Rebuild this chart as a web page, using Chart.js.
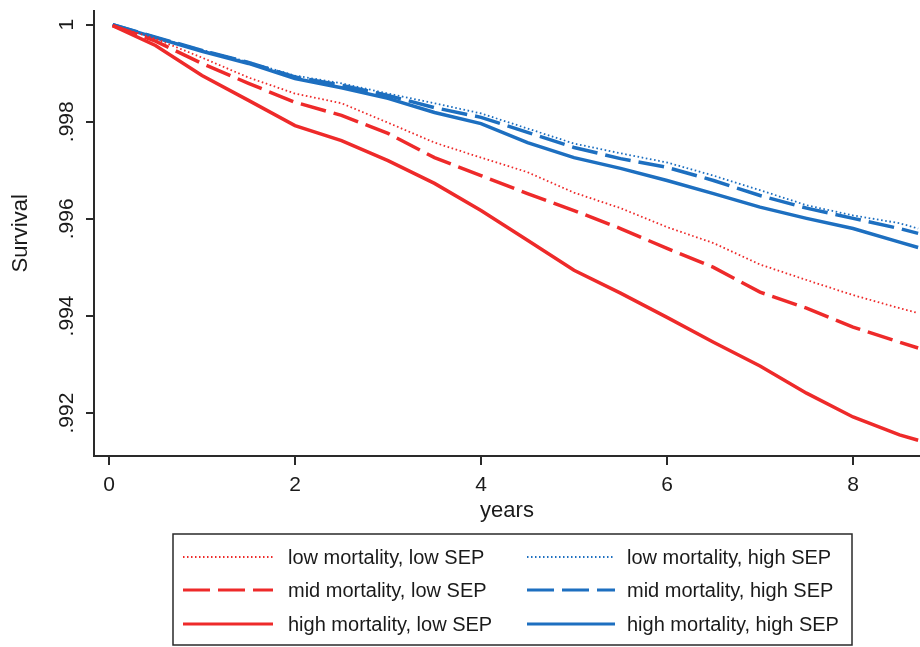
<!DOCTYPE html>
<html>
<head>
<meta charset="utf-8">
<script src="https://cdn.jsdelivr.net/npm/chart.js@4/dist/chart.umd.min.js"></script>
<style>
  html, body { margin: 0; padding: 0; background: #fff; }
  canvas { display: block; }
</style>
</head>
<body>
<canvas id="myChart" width="920" height="647"></canvas>
<script>
const ctx = document.getElementById('myChart');

// years of follow-up where the curves were read
const years = [0.04, 0.5, 1, 1.5, 2, 2.5, 3, 3.5, 4, 4.5, 5, 5.5, 6, 6.5, 7, 7.5, 8, 8.5, 8.7]

// survival, one list per group
const lowLow   = [0.99998, 0.99971, 0.99932, 0.99891, 0.99858, 0.99838, 0.99798, 0.99757, 0.99726, 0.99696, 0.99654, 0.99622, 0.99583, 0.99550, 0.99506, 0.99474, 0.99443, 0.99416, 0.99406]
const midLow   = [0.99998, 0.99966, 0.99920, 0.99879, 0.99840, 0.99813, 0.99776, 0.99726, 0.99689, 0.99652, 0.99617, 0.99580, 0.99539, 0.99500, 0.99449, 0.99416, 0.99377, 0.99346, 0.99334]
const highLow  = [0.99998, 0.99957, 0.99895, 0.99844, 0.99792, 0.99761, 0.99720, 0.99673, 0.99617, 0.99556, 0.99494, 0.99447, 0.99397, 0.99346, 0.99297, 0.99241, 0.99192, 0.99155, 0.99144]
const lowHigh  = [1.00000, 0.99974, 0.99948, 0.99923, 0.99895, 0.99879, 0.99858, 0.99838, 0.99817, 0.99786, 0.99755, 0.99735, 0.99716, 0.99689, 0.99659, 0.99628, 0.99607, 0.99591, 0.99580]
const midHigh  = [1.00000, 0.99974, 0.99947, 0.99922, 0.99892, 0.99875, 0.99854, 0.99829, 0.99809, 0.99778, 0.99747, 0.99724, 0.99706, 0.99679, 0.99648, 0.99622, 0.99601, 0.99580, 0.99570]
const highHigh = [1.00000, 0.99973, 0.99945, 0.99920, 0.99889, 0.99870, 0.99848, 0.99819, 0.99796, 0.99757, 0.99726, 0.99704, 0.99679, 0.99652, 0.99624, 0.99601, 0.99580, 0.99552, 0.99541]

const seriesLabels = ['low mortality, low SEP', 'mid mortality, low SEP', 'high mortality, low SEP',
                      'low mortality, high SEP', 'mid mortality, high SEP', 'high mortality, high SEP']

const xTicks = [0, 2, 4, 6, 8]
const xTickLabels = ['0', '2', '4', '6', '8']
const yTicks = [0.992, 0.994, 0.996, 0.998, 1]
const yTickLabels = ['.992', '.994', '.996', '.998', '1']

const red = '#ee2a2a'
const blue = '#1d6fc0'
const axisColor = '#2a2a2a'
const fontFamily = '"Liberation Sans", Arial, sans-serif'

function points(values) {
  return years.map((t, i) => ({ x: t, y: values[i] }))
}

function line(label, values, color, kind) {
  let ds = {
    label: label,
    data: points(values),
    borderColor: color,
    backgroundColor: color,
    pointRadius: 0,
    fill: false,
    tension: 0
  }
  if (kind === 'dot') { ds.borderWidth = 1.8; ds.borderDash = [1.6, 2.6] }
  if (kind === 'dash') { ds.borderWidth = 3.5; ds.borderDash = [26, 8] }
  if (kind === 'solid') { ds.borderWidth = 3.5 }
  return ds
}

// legend drawn as a framed two column box under the axis
const boxLegend = {
  id: 'boxLegend',
  afterDraw(chart) {
    const c = chart.ctx
    c.save()
    c.strokeStyle = axisColor
    c.lineWidth = 1.5
    c.strokeRect(173, 534, 679, 111)
    const rows = [557, 590, 624]
    const cols = [{ x1: 183, x2: 273, tx: 288 }, { x1: 527, x2: 615, tx: 627 }]
    chart.data.datasets.forEach((ds, i) => {
      const col = cols[Math.floor(i / 3)]
      const y = rows[i % 3]
      const dotted = ds.borderDash && ds.borderDash[0] < 3
      c.beginPath()
      c.strokeStyle = ds.borderColor
      c.lineWidth = dotted ? 2 : 3
      c.setLineDash(ds.borderDash ? (dotted ? [1.5, 2.5] : [27, 8]) : [])
      c.moveTo(col.x1, y)
      c.lineTo(col.x2, y)
      c.stroke()
      c.setLineDash([])
      c.fillStyle = '#1a1a1a'
      c.font = '20px ' + fontFamily
      c.textBaseline = 'middle'
      c.textAlign = 'left'
      c.fillText(ds.label, col.tx, y + 1)
    })
    c.restore()
  }
}

const mychart = new Chart(ctx, {
  type: 'line',
  data: {
    datasets: [
      line(seriesLabels[0], lowLow, red, 'dot'),
      line(seriesLabels[1], midLow, red, 'dash'),
      line(seriesLabels[2], highLow, red, 'solid'),
      line(seriesLabels[3], lowHigh, blue, 'dot'),
      line(seriesLabels[4], midHigh, blue, 'dash'),
      line(seriesLabels[5], highHigh, blue, 'solid')
    ]
  },
  options: {
    responsive: false,
    animation: false,
    layout: { padding: { top: 10, right: 0, bottom: 121, left: 0 } },
    plugins: {
      legend: { display: false },
      tooltip: { enabled: false }
    },
    scales: {
      x: {
        type: 'linear',
        min: -0.161,
        max: 8.72,
        afterBuildTicks: (scale) => { scale.ticks = xTicks.map(v => ({ value: v })) },
        afterFit: (scale) => { scale.height = 70 },
        ticks: {
          color: '#1a1a1a',
          padding: 8,
          maxRotation: 0,
          font: { family: fontFamily, size: 21 },
          callback: (value, index) => xTickLabels[index]
        },
        grid: { drawOnChartArea: false, drawTicks: true, tickLength: 9, color: axisColor, lineWidth: 2 },
        border: { display: true, color: axisColor, width: 2 },
        title: {
          display: true,
          text: 'years',
          color: '#1a1a1a',
          font: { family: fontFamily, size: 22 },
          padding: { top: 0, bottom: 2 }
        }
      },
      y: {
        type: 'linear',
        min: 0.991116,
        max: 1.000288,
        afterBuildTicks: (scale) => { scale.ticks = yTicks.map(v => ({ value: v })) },
        afterFit: (scale) => { scale.width = 94 },
        ticks: {
          color: '#1a1a1a',
          padding: -2,
          minRotation: 90,
          maxRotation: 90,
          crossAlign: 'center',
          font: { family: fontFamily, size: 21 },
          callback: (value, index) => yTickLabels[index]
        },
        grid: { drawOnChartArea: false, drawTicks: true, tickLength: 8, color: axisColor, lineWidth: 2 },
        border: { display: true, color: axisColor, width: 2 },
        title: {
          display: true,
          text: 'Survival',
          color: '#1a1a1a',
          font: { family: fontFamily, size: 22 },
          padding: { top: 8, bottom: 0 }
        }
      }
    }
  },
  plugins: [boxLegend]
});
</script>
</body>
</html>
